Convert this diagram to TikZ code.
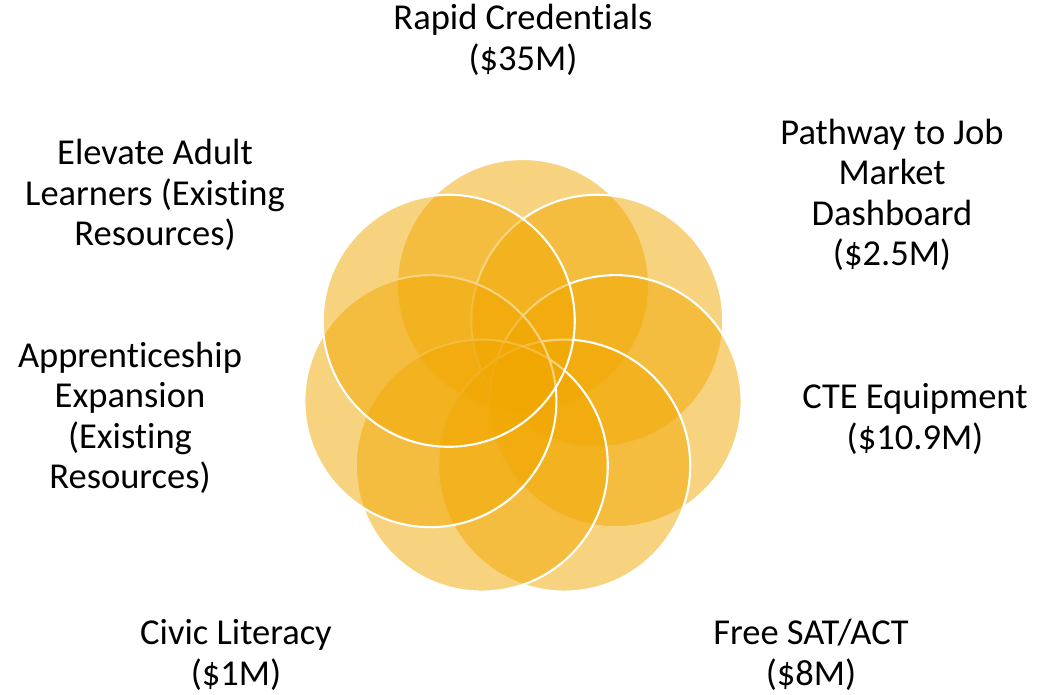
\documentclass[tikz,border=0pt]{standalone}
\usepackage{fontspec}
\setmainfont[Ligatures=NoCommon]{Carlito}
\usetikzlibrary{calc}
\definecolor{petalgold}{RGB}{241,167,0}
\tikzset{
  x=1pt, y=1pt,
  petal/.style={circle, inner sep=0pt, outer sep=0pt, minimum size=252pt,
    fill=petalgold, fill opacity=0.5, draw=white, draw opacity=1, line width=2.1pt},
  lbl/.style={align=center, inner sep=0pt, text=black,
    font=\fontsize{36.5}{40.5}\selectfont}
}
\begin{document}
\begin{tikzpicture}
\useasboundingbox (0,0) rectangle (1038,694);
\coordinate (c) at (523,314);
\foreach \k in {0,...,6}{
  \node[petal] (p\k) at ($(c)+({90-\k*360/7}:95)$) {};
}
\node[lbl] (rapid) at (523,654) {Rapid Credentials\\(\$35M)};
\node[lbl] (pathway) at (892,499) {Pathway to Job\\Market\\Dashboard\\(\$2.5M)};
\node[lbl] (cte) at (915,275) {CTE Equipment\\(\$10.9M)};
\node[lbl] (sat) at (811,39) {Free SAT/ACT\\(\$8M)};
\node[lbl] (civic) at (236,39) {Civic Literacy\\(\$1M)};
\node[lbl] (appr) at (130,276) {Apprenticeship\\Expansion\\(Existing\\Resources)};
\node[lbl] (elev) at (155,499) {Elevate Adult\\Learners (Existing\\Resources)};
\end{tikzpicture}
\end{document}
